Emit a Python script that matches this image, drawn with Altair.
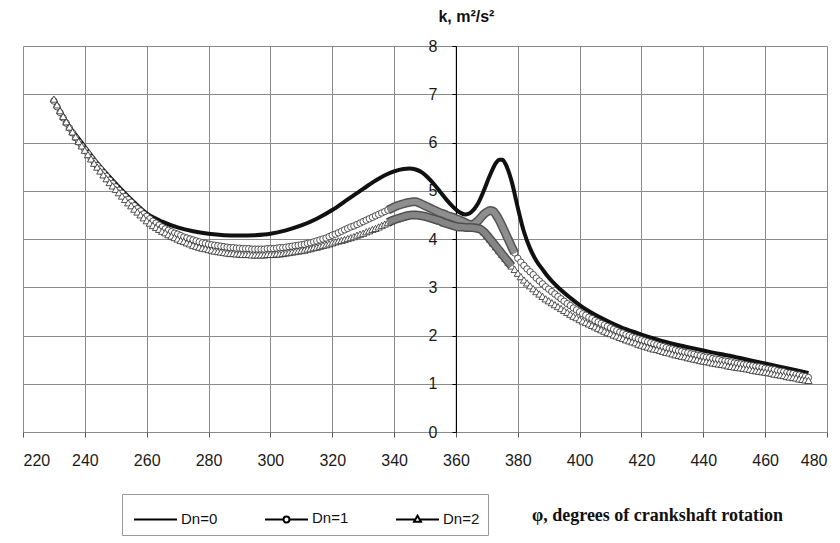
import altair as alt
import pandas as pd

# ---------------- data ----------------
series_names = ["Dn=0", "Dn=1", "Dn=2"]
x_ticks = [220, 240, 260, 280, 300, 320, 340, 360, 380, 400, 420, 440, 460, 480]
y_ticks = [0, 1, 2, 3, 4, 5, 6, 7, 8]

phi_dn0 = [230, 232, 235, 238, 240, 245, 250, 255, 260, 265, 270, 275, 280, 285, 290,
           295, 300, 305, 310, 315, 320, 325, 330, 335, 340, 343, 345, 347, 349, 351,
           353, 355, 357, 359, 361, 363, 364, 365, 367, 369, 371, 373, 374, 375, 376,
           378, 380, 382, 384, 386, 388, 390, 393, 397, 400, 405, 410, 415, 420, 425,
           430, 435, 440, 445, 450, 455, 460, 465, 470, 474]
k_dn0 = [6.90, 6.66, 6.33, 6.08, 5.91, 5.50, 5.15, 4.82, 4.53, 4.36, 4.24, 4.16, 4.11, 4.08, 4.07,
         4.08, 4.11, 4.18, 4.28, 4.42, 4.60, 4.82, 5.04, 5.25, 5.40, 5.45, 5.46, 5.44, 5.38, 5.27,
         5.13, 4.97, 4.81, 4.67, 4.56, 4.51, 4.52, 4.56, 4.72, 5.00, 5.32, 5.58, 5.64, 5.64, 5.56,
         5.20, 4.65, 4.15, 3.80, 3.55, 3.37, 3.20, 3.00, 2.78, 2.63, 2.43, 2.27, 2.13, 2.02, 1.92,
         1.83, 1.76, 1.69, 1.62, 1.56, 1.49, 1.42, 1.35, 1.28, 1.22]

phi_markers = list(range(230, 475))
k_dn1 = [6.86, 6.74, 6.62, 6.51, 6.40, 6.30, 6.20, 6.10, 6.01, 5.93,
         5.85, 5.77, 5.68, 5.60, 5.52, 5.45, 5.37, 5.30, 5.22, 5.15,
         5.08, 5.01, 4.95, 4.88, 4.82, 4.76, 4.69, 4.63, 4.58, 4.52,
         4.47, 4.42, 4.37, 4.33, 4.29, 4.25, 4.21, 4.18, 4.15, 4.12,
         4.10, 4.07, 4.04, 4.02, 4.00, 3.98, 3.96, 3.94, 3.92, 3.91,
         3.89, 3.88, 3.87, 3.86, 3.85, 3.84, 3.83, 3.82, 3.82, 3.81,
         3.81, 3.80, 3.80, 3.80, 3.79, 3.79, 3.79, 3.79, 3.79, 3.80,
         3.80, 3.80, 3.81, 3.82, 3.82, 3.83, 3.84, 3.85, 3.86, 3.87,
         3.88, 3.89, 3.91, 3.92, 3.94, 3.96, 3.98, 4.00, 4.02, 4.05,
         4.08, 4.10, 4.13, 4.16, 4.19, 4.22, 4.25, 4.27, 4.30, 4.33,
         4.36, 4.39, 4.42, 4.45, 4.48, 4.51, 4.54, 4.57, 4.60, 4.63,
         4.66, 4.69, 4.71, 4.73, 4.75, 4.76, 4.77, 4.77, 4.75, 4.72,
         4.69, 4.66, 4.63, 4.60, 4.57, 4.54, 4.52, 4.49, 4.47, 4.45,
         4.42, 4.40, 4.37, 4.34, 4.31, 4.30, 4.32, 4.37, 4.44, 4.51,
         4.56, 4.59, 4.58, 4.50, 4.39, 4.26, 4.12, 3.98, 3.84, 3.71,
         3.60, 3.52, 3.45, 3.38, 3.32, 3.26, 3.19, 3.13, 3.07, 3.01,
         2.96, 2.91, 2.86, 2.81, 2.76, 2.71, 2.66, 2.62, 2.57, 2.53,
         2.49, 2.45, 2.42, 2.38, 2.35, 2.31, 2.28, 2.25, 2.22, 2.19,
         2.16, 2.13, 2.10, 2.07, 2.05, 2.02, 2.00, 1.97, 1.95, 1.93,
         1.91, 1.89, 1.87, 1.85, 1.83, 1.81, 1.79, 1.77, 1.75, 1.73,
         1.72, 1.70, 1.68, 1.67, 1.65, 1.64, 1.62, 1.61, 1.59, 1.58,
         1.56, 1.55, 1.54, 1.52, 1.51, 1.50, 1.48, 1.47, 1.46, 1.45,
         1.43, 1.42, 1.41, 1.40, 1.39, 1.38, 1.37, 1.36, 1.35, 1.34,
         1.32, 1.31, 1.30, 1.29, 1.27, 1.26, 1.25, 1.23, 1.22, 1.21,
         1.19, 1.18, 1.16, 1.15, 1.13]
k_dn2 = [6.90, 6.78, 6.66, 6.54, 6.43, 6.32, 6.22, 6.12, 6.02, 5.93,
         5.84, 5.75, 5.66, 5.57, 5.49, 5.41, 5.33, 5.25, 5.17, 5.10,
         5.03, 4.96, 4.89, 4.82, 4.75, 4.69, 4.62, 4.56, 4.50, 4.44,
         4.38, 4.33, 4.28, 4.24, 4.20, 4.16, 4.13, 4.09, 4.06, 4.03,
         4.00, 3.97, 3.95, 3.92, 3.90, 3.87, 3.85, 3.83, 3.81, 3.80,
         3.78, 3.77, 3.75, 3.74, 3.73, 3.72, 3.71, 3.70, 3.70, 3.69,
         3.69, 3.68, 3.68, 3.68, 3.67, 3.67, 3.67, 3.67, 3.67, 3.68,
         3.68, 3.68, 3.69, 3.69, 3.70, 3.71, 3.72, 3.73, 3.74, 3.75,
         3.76, 3.77, 3.79, 3.80, 3.82, 3.83, 3.85, 3.87, 3.88, 3.90,
         3.92, 3.94, 3.96, 3.97, 3.99, 4.01, 4.03, 4.05, 4.08, 4.10,
         4.12, 4.15, 4.17, 4.20, 4.22, 4.25, 4.28, 4.31, 4.34, 4.37,
         4.40, 4.42, 4.44, 4.46, 4.48, 4.49, 4.50, 4.50, 4.49, 4.48,
         4.47, 4.45, 4.43, 4.41, 4.39, 4.37, 4.34, 4.32, 4.30, 4.28,
         4.26, 4.25, 4.25, 4.24, 4.24, 4.24, 4.23, 4.22, 4.20, 4.15,
         4.08, 4.00, 3.92, 3.84, 3.76, 3.68, 3.60, 3.52, 3.44, 3.37,
         3.29, 3.22, 3.15, 3.09, 3.03, 2.97, 2.91, 2.86, 2.81, 2.76,
         2.72, 2.68, 2.64, 2.60, 2.56, 2.52, 2.48, 2.44, 2.40, 2.37,
         2.33, 2.30, 2.27, 2.24, 2.21, 2.18, 2.15, 2.12, 2.09, 2.06,
         2.04, 2.01, 1.99, 1.96, 1.94, 1.91, 1.89, 1.87, 1.85, 1.82,
         1.80, 1.78, 1.76, 1.74, 1.72, 1.71, 1.69, 1.67, 1.65, 1.64,
         1.62, 1.60, 1.59, 1.57, 1.56, 1.54, 1.53, 1.51, 1.50, 1.48,
         1.47, 1.46, 1.45, 1.43, 1.42, 1.41, 1.40, 1.39, 1.37, 1.36,
         1.35, 1.34, 1.33, 1.32, 1.31, 1.30, 1.28, 1.27, 1.26, 1.25,
         1.24, 1.23, 1.22, 1.20, 1.19, 1.18, 1.17, 1.15, 1.14, 1.13,
         1.12, 1.10, 1.09, 1.08, 1.07]

assert len(phi_dn0) == len(k_dn0)
assert len(phi_markers) == len(k_dn1) == len(k_dn2)

rows = []
for p, k in zip(phi_dn0, k_dn0):
    rows.append({"phi": p, "k": k, "series": series_names[0]})
for p, k in zip(phi_markers, k_dn1):
    rows.append({"phi": p, "k": k, "series": series_names[1]})
for p, k in zip(phi_markers, k_dn2):
    rows.append({"phi": p, "k": k, "series": series_names[2]})
df = pd.DataFrame(rows)

# ---------------- layout ----------------
W, H = 804, 386
SANS = "Liberation Sans"
SERIF = "Liberation Serif"
y_axis_offset = -(360 - 220) / (480 - 220) * W

x_enc = alt.X("phi:Q",
              scale=alt.Scale(domain=[220, 480], nice=False, zero=False),
              axis=alt.Axis(values=x_ticks, format="d", grid=True, gridColor="#8a8a8a",
                            gridWidth=1, domain=False, ticks=True, tickColor="#555",
                            tickSize=5, labelFont=SANS, labelFontSize=16, labelColor="#1a1a1a",
                            labelPadding=15, labelOverlap=False,
                            title="\u03c6, degrees of crankshaft rotation",
                            titleFont=SERIF, titleFontSize=18, titleFontWeight="bold",
                            titleColor="#111", titleAlign="center", titleAnchor="start",
                            titleX=634, titleY=88, titleBaseline="alphabetic"))
y_enc = alt.Y("k:Q",
              scale=alt.Scale(domain=[0, 8], nice=False, zero=True),
              axis=alt.Axis(values=y_ticks, format="d", grid=True, gridColor="#8a8a8a",
                            gridWidth=1, offset=y_axis_offset, domain=True, domainColor="#000",
                            domainWidth=1.2, ticks=True, tickColor="#000", tickSize=4,
                            labelFont=SANS, labelFontSize=16, labelColor="#1a1a1a",
                            labelPadding=15, labelOverlap=False,
                            title="k, m\u00b2/s\u00b2", titleFont=SANS, titleFontSize=16,
                            titleFontWeight="bold", titleColor="#111", titleAngle=0,
                            titleAlign="center", titleAnchor="start", titleX=10, titleY=-25,
                            titleBaseline="alphabetic"))

base = alt.Chart(df)

line0 = base.transform_filter(alt.datum.series == series_names[0]).mark_line(
    color="#111", strokeWidth=4, interpolate="monotone"
).encode(x=x_enc, y=y_enc)

pts1 = base.transform_filter(alt.datum.series == series_names[1]).mark_point(
    shape="circle", size=42, filled=True, fill="white", stroke="#2a2a2a", strokeWidth=0.8, opacity=1
).encode(x=x_enc, y=y_enc)

band_filter1 = (alt.datum.series == series_names[1]) & (alt.datum.phi >= 338) & (alt.datum.phi <= 379)
band1_dark = base.transform_filter(band_filter1).mark_line(
    color="#555555", strokeWidth=9, interpolate="monotone").encode(x=x_enc, y=y_enc)
band1_light = base.transform_filter(band_filter1).mark_line(
    color="#8e8e8e", strokeWidth=6, interpolate="monotone").encode(x=x_enc, y=y_enc)

pts2 = base.transform_filter(alt.datum.series == series_names[2]).mark_point(
    shape="triangle-up", size=52, filled=True, fill="white", stroke="#2a2a2a", strokeWidth=0.8, opacity=1
).encode(x=x_enc, y=y_enc)

band_filter2 = (alt.datum.series == series_names[2]) & (alt.datum.phi >= 338) & (alt.datum.phi <= 378)
band2_dark = base.transform_filter(band_filter2).mark_line(
    color="#505050", strokeWidth=9, interpolate="monotone").encode(x=x_enc, y=y_enc)
band2_light = base.transform_filter(band_filter2).mark_line(
    color="#858585", strokeWidth=6, interpolate="monotone").encode(x=x_enc, y=y_enc)

legend_paths = [
    "M-0.87,-0.3H1",
    "M-0.87,-0.3H-0.065M0.195,-0.3H1M-0.065,-0.3A0.13,0.13 0 1,1 0.195,-0.3A0.13,0.13 0 1,1 -0.065,-0.3",
    "M-0.87,-0.3H-0.033M0.163,-0.3H1M-0.085,-0.21L0.065,-0.47L0.215,-0.21Z",
]

legend_layer = base.mark_point(filled=False, opacity=0, color="black", strokeWidth=2).encode(
    x=x_enc, y=y_enc,
    shape=alt.Shape("series:N",
                    scale=alt.Scale(domain=series_names, range=legend_paths),
                    legend=alt.Legend(orient="none", legendX=99, legendY=448,
                                      direction="horizontal", title=None, padding=8,
                                      strokeColor="#9a9a9a", fillColor="white",
                                      symbolSize=46 * 46, symbolStrokeWidth=2,
                                      symbolStrokeColor="black", symbolOpacity=1,
                                      symbolFillColor="transparent",
                                      labelFont=SANS, labelFontSize=15, labelColor="#111",
                                      labelOffset=3, labelBaseline="bottom",
                                      columnPadding=42)),
)

chart = alt.layer(line0, pts1, band1_dark, band1_light, pts2, band2_dark, band2_light,
                  legend_layer).properties(
    width=W, height=H,
    autosize=alt.AutoSizeParams(type="none"),
    padding={"left": 23, "top": 46, "right": 13, "bottom": 111},
).configure_view(stroke="#1a1a1a", strokeWidth=2.5).configure(background="white")

chart.save("out.html", embed_options={"renderer": "svg", "actions": False})
